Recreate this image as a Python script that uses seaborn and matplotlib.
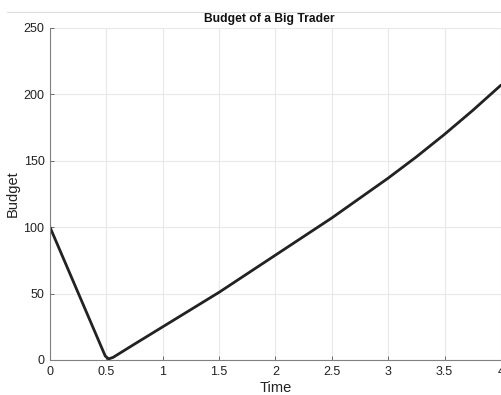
import matplotlib
matplotlib.use("Agg")
import matplotlib.pyplot as plt
from matplotlib.lines import Line2D
import seaborn as sns
import pandas as pd

# Budget of a big trader over time
time = [0.0, 0.49, 0.52, 0.56, 0.75, 1.0, 1.25, 1.5, 1.75, 2.0, 2.25, 2.5,
        2.75, 3.0, 3.25, 3.5, 3.75, 4.0]
budget = [100, 3, 0.8, 2, 12, 25, 38, 51, 65, 79, 93, 107,
          122, 137, 153, 170, 188, 207]
x_ticks = [0, 0.5, 1, 1.5, 2, 2.5, 3, 3.5, 4]
x_tick_labels = ["0", "0.5", "1", "1.5", "2", "2.5", "3", "3.5", "4"]
y_ticks = [0, 50, 100, 150, 200, 250]

sns.set_theme(style="whitegrid")
plt.rcParams["font.family"] = ["Liberation Sans", "DejaVu Sans"]

df = pd.DataFrame({"Time": time, "Budget": budget})

fig = plt.figure(figsize=(5.02, 3.95), dpi=100)
ax = fig.add_axes([50 / 502, 1 - 360 / 395, 451 / 502, 332 / 395])

sns.lineplot(data=df, x="Time", y="Budget", ax=ax, color="#222222",
             linewidth=2.0, sort=False, estimator=None)

ax.set_xlim(0, 4)
ax.set_ylim(0, 250)
ax.set_xticks(x_ticks)
ax.set_xticklabels(x_tick_labels)
ax.set_yticks(y_ticks)

ax.grid(True, color="#e8e8e8", linewidth=0.8)
ax.set_axisbelow(True)
for side in ("top", "right"):
    ax.spines[side].set_visible(False)
for side in ("left", "bottom"):
    ax.spines[side].set_visible(True)
    ax.spines[side].set_color("#808080")
    ax.spines[side].set_linewidth(0.8)

ax.tick_params(axis="both", which="major", direction="in", length=3,
               width=0.6, color="#555555", labelsize=9,
               labelcolor="#222222", pad=4, left=True, bottom=True)

ax.set_xlabel("Time", fontsize=10.5, color="#222222", labelpad=2.5)
ax.set_ylabel("Budget", fontsize=10.5, color="#222222", labelpad=3)
ax.set_title("Budget of a Big Trader", fontsize=8.7, fontweight="bold",
             color="#111111", pad=4, x=0.487)

# thin frame line along the top of the figure
fig.add_artist(Line2D([7 / 502, 1.0], [1 - 11.5 / 395, 1 - 11.5 / 395],
                      transform=fig.transFigure, color="#dddddd",
                      linewidth=0.8))

fig.savefig("out.png", dpi=100, facecolor="white")
